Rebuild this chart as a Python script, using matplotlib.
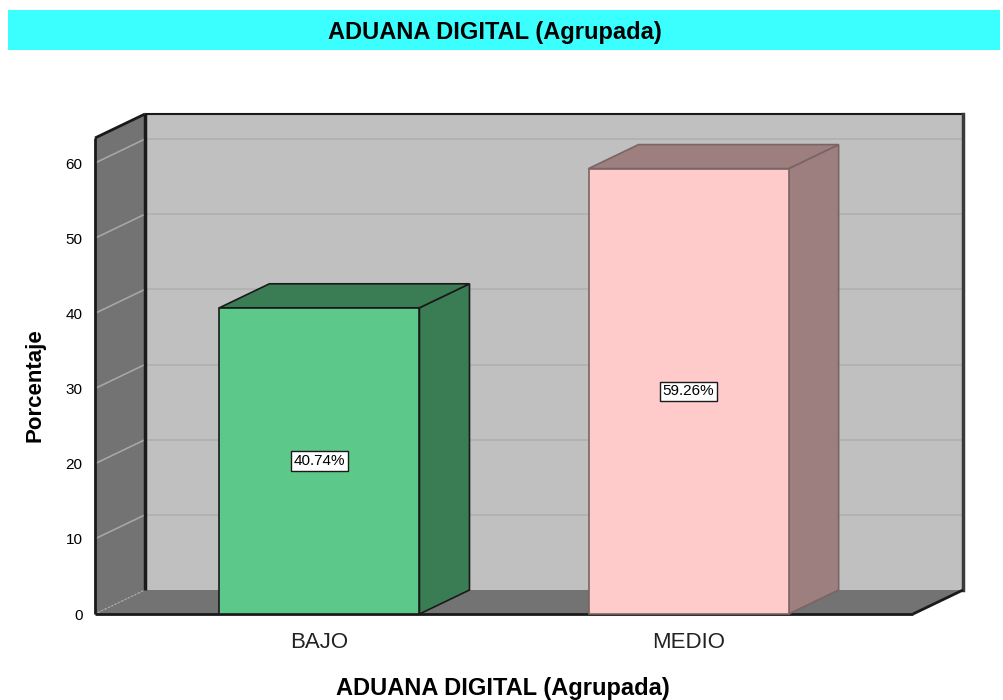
import matplotlib
matplotlib.use("Agg")
import matplotlib.pyplot as plt
from matplotlib.patches import Polygon, Rectangle

plt.rcParams['font.family'] = ['Liberation Sans', 'DejaVu Sans']

# data
categories = ['BAJO', 'MEDIO']
percentages = [40.74, 59.26]
value_labels = ['40.74%', '59.26%']
y_ticks = [0, 10, 20, 30, 40, 50, 60]
title = 'ADUANA DIGITAL (Agrupada)'
x_title = 'ADUANA DIGITAL (Agrupada)'
y_title = 'Porcentaje'

front_colors = ['#5cc98b', '#ffcaca']
dark_colors = ['#3a7d55', '#9e7f7f']

W, H = 1004, 700
fig = plt.figure(figsize=(W / 100, H / 100), dpi=100)

# title band
fig.patches.append(Rectangle((8 / W, 1 - 50 / H), 992 / W, 40 / H,
                             transform=fig.transFigure, facecolor='#3bffff',
                             edgecolor='none', zorder=0))
fig.text(495 / W, 1 - 32 / H, title, ha='center', va='center',
         fontsize=17, fontweight='bold')

# front plane of the 3d box
ax = fig.add_axes([95 / W, 1 - 614 / H, 818 / W, 476 / H])
x0, x1 = -0.608, 1.608
y0, y1 = 0, 63.33
ax.set_xlim(x0, x1)
ax.set_ylim(y0, y1)
for s in ax.spines.values():
    s.set_visible(False)
ax.patch.set_visible(False)

dx = 50 / 369.0
dy = 24 / 7.517
bar_w = 200 / 369.0


def poly(pts, fc, ec='none', lw=0.0, z=1):
    ax.add_patch(Polygon(pts, closed=True, facecolor=fc, edgecolor=ec,
                         linewidth=lw, zorder=z, clip_on=False,
                         joinstyle='miter'))


# back wall
poly([(x0 + dx, dy), (x1 + dx, dy), (x1 + dx, y1 + dy), (x0 + dx, y1 + dy)], '#c0c0c0', z=1)
for v in y_ticks[1:]:
    ax.plot([x0 + dx, x1 + dx], [v + dy, v + dy], color='#b0b0b0', lw=1.2,
            zorder=2, clip_on=False)
# left wall
poly([(x0, 0), (x0 + dx, dy), (x0 + dx, y1 + dy), (x0, y1)], '#737373', z=3)
for v in y_ticks[1:]:
    ax.plot([x0, x0 + dx], [v, v + dy], color='#a6a6a6', lw=1.2, zorder=4,
            clip_on=False)
# floor
poly([(x0, 0), (x0 + dx, dy), (x1 + dx, dy), (x1, 0)], '#737373', z=3)
ax.plot([x0, x0 + dx], [0, dy], color='#b0b0b0', lw=1, ls=':', zorder=4,
        clip_on=False)

# box edges
edge = dict(color='#1a1a1a', zorder=5, clip_on=False, solid_capstyle='butt')
ax.plot([x0, x0], [0, y1], lw=2, **edge)
ax.plot([x0, x0 + dx], [y1, y1 + dy], lw=2, **edge)
ax.plot([x0 + dx, x0 + dx], [dy, y1 + dy], lw=2.5, **edge)
ax.plot([x0 + dx, x1 + dx], [y1 + dy, y1 + dy], lw=1.5, **edge)
ax.plot([x1 + dx, x1 + dx], [dy, y1 + dy], lw=2.5, color='#3a3a3a',
        zorder=5, clip_on=False)
ax.plot([x0, x1], [0, 0], lw=2, **edge)
ax.plot([x1, x1 + dx], [0, dy], lw=2, **edge)

# bars
for i, (v, fc, dc, lab) in enumerate(zip(percentages, front_colors,
                                         dark_colors, value_labels)):
    l, r = i - bar_w / 2, i + bar_w / 2
    ec = '#1a1a1a' if i == 0 else '#7a6464'
    poly([(r, 0), (r + dx, dy), (r + dx, v + dy), (r, v)], dc, ec, 1.2, z=6)
    poly([(l, v), (l + dx, v + dy), (r + dx, v + dy), (r, v)], dc, ec, 1.2, z=6)
    poly([(l, 0), (r, 0), (r, v), (l, v)], fc, ec, 1.2, z=7)
    ax.text(i, v / 2, lab, ha='center', va='center', fontsize=11, zorder=8,
            bbox=dict(boxstyle='square,pad=0.18', facecolor='white',
                      edgecolor='#1a1a1a', linewidth=1))

ax.set_yticks(y_ticks)
ax.set_yticklabels([str(t) for t in y_ticks], fontsize=11)
ax.set_xticks(range(len(categories)))
ax.set_xticklabels(categories, fontsize=16, color='#222222')
ax.tick_params(axis='y', length=0, pad=9)
ax.tick_params(axis='x', length=0, pad=13)

fig.text(503 / W, 1 - 688 / H, x_title, ha='center', va='center',
         fontsize=17, fontweight='bold')
fig.text(35 / W, 1 - 385 / H, y_title, ha='center', va='center',
         rotation=90, fontsize=16, fontweight='bold')

fig.savefig('out.png', dpi=100)
